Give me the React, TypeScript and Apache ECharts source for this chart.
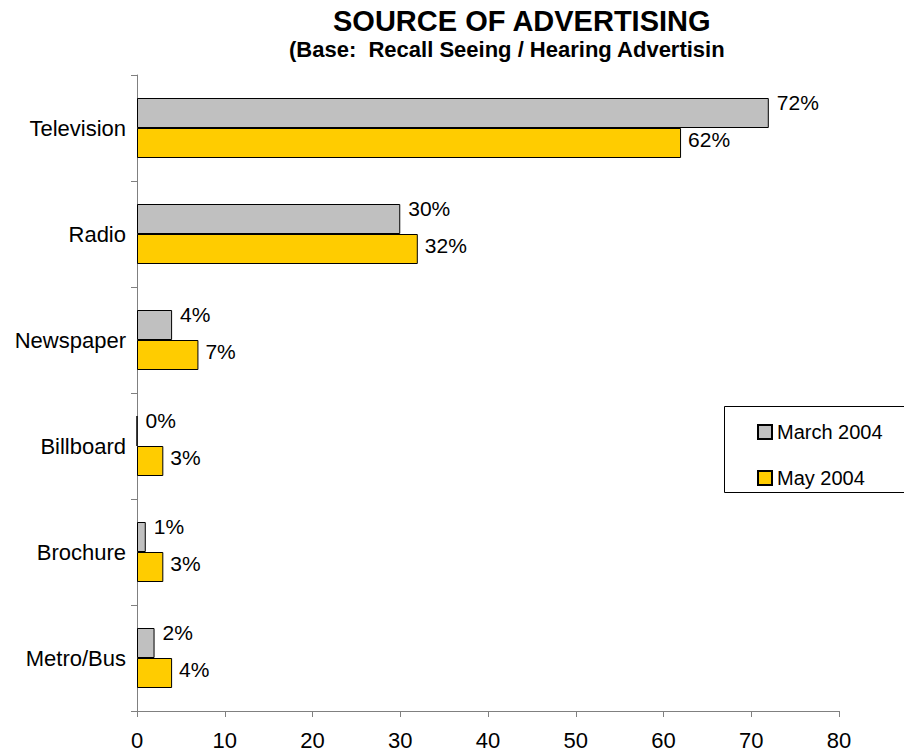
import React, { useEffect, useRef } from "react";
import * as echarts from "echarts";

const categories = ["Television", "Radio", "Newspaper", "Billboard", "Brochure", "Metro/Bus"];
const march2004 = [72, 30, 4, 0, 1, 2];
const may2004 = [62, 32, 7, 3, 3, 4];
const seriesNames = ["March 2004", "May 2004"];
const xTicks = { min: 0, max: 80, interval: 10 };
const titleText = "SOURCE OF ADVERTISING";
const subtitleText = "(Base:  Recall Seeing / Hearing Advertisin";

const FONT = "'Liberation Sans', Arial, Helvetica, sans-serif";

export default function App() {
  const ref = useRef<HTMLDivElement>(null);
  useEffect(() => {
    if (!ref.current) return;
    const chart = echarts.init(ref.current, null, { renderer: "svg" });
    const labelBase = {
      show: true,
      position: "right",
      color: "#000",
      fontSize: 21,
      fontFamily: FONT,
      formatter: (p: any) => `${p.value}%`,
    };
    chart.setOption({
      animation: false,
      backgroundColor: "#fff",
      textStyle: { fontFamily: FONT },
      title: [
        {
          text: titleText,
          left: 333,
          top: 6,
          padding: 0,
          textStyle: { fontSize: 29, fontWeight: "bold", color: "#000", fontFamily: FONT },
        },
        {
          text: subtitleText,
          left: 289,
          top: 38,
          padding: 0,
          textStyle: { fontSize: 22, fontWeight: "bold", color: "#000", fontFamily: FONT },
        },
      ],
      graphic: [
        {
          type: "rect",
          left: 724,
          top: 406,
          shape: { width: 200, height: 86 },
          style: { fill: "#fff", stroke: "#000", lineWidth: 1 },
          z: 0,
        },
      ],
      legend: {
        orient: "vertical",
        left: 757,
        top: 422,
        padding: 0,
        itemWidth: 14,
        itemHeight: 14,
        itemGap: 26,
        icon: "rect",
        z: 10,
        textStyle: { fontSize: 20, color: "#000", fontFamily: FONT },
        data: seriesNames,
      },
      grid: { left: 137, right: 65, top: 75, bottom: 39, containLabel: false },
      xAxis: {
        type: "value",
        min: xTicks.min,
        max: xTicks.max,
        interval: xTicks.interval,
        splitLine: { show: false },
        axisLine: { show: true, lineStyle: { color: "#808080", width: 1 } },
        axisTick: { show: true, length: 6, lineStyle: { color: "#808080" } },
        axisLabel: { color: "#000", fontSize: 22, margin: 18, fontFamily: FONT },
      },
      yAxis: {
        type: "category",
        data: categories,
        inverse: true,
        axisLine: { show: true, lineStyle: { color: "#808080", width: 1 } },
        axisTick: { show: true, length: 6, lineStyle: { color: "#808080" } },
        axisLabel: { color: "#000", fontSize: 22, margin: 11, fontFamily: FONT },
      },
      series: [
        {
          name: seriesNames[0],
          type: "bar",
          data: march2004,
          barWidth: 30,
          barGap: "0%",
          itemStyle: { color: "#C0C0C0", borderColor: "#000", borderWidth: 1 },
          label: { ...labelBase, distance: 8, offset: [0, -11] },
        },
        {
          name: seriesNames[1],
          type: "bar",
          data: may2004,
          barWidth: 30,
          barGap: "0%",
          itemStyle: { color: "#FFCC00", borderColor: "#000", borderWidth: 1 },
          label: { ...labelBase, distance: 7, offset: [0, -4] },
        },
      ],
    });
    return () => chart.dispose();
  }, []);
  return (
    <div
      ref={ref}
      style={{ position: "fixed", left: 0, top: 0, width: 904, height: 751 }}
    />
  );
}
